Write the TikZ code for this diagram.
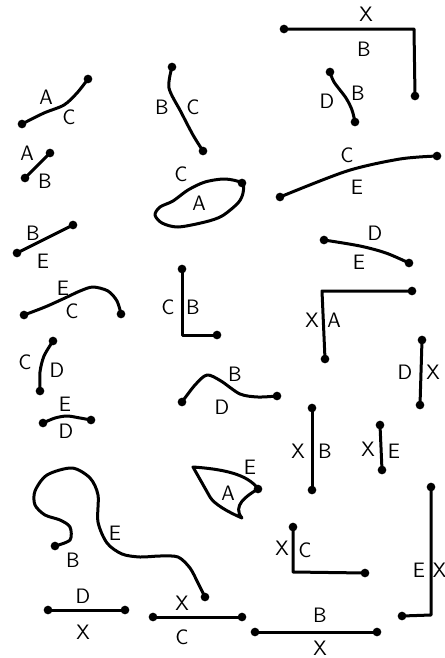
\documentclass[tikz,border=0pt]{standalone}
\usepackage{xcolor}
\usepackage{tikz}

\tikzset{
  wire/.style={line width=1.8pt, line cap=round, line join=round},
  lab/.style={font=\sffamily\fontsize{12.5}{14}\selectfont, inner sep=0pt}
}

\begin{document}
\begin{tikzpicture}[x=0.6pt, y=-0.6pt]
\useasboundingbox (0,0) rectangle (444,658);

% end points
\foreach \n/\x/\y in {ac1/22/124, ac2/88/79, ab1/25/178, ab2/50/153,
  bc1/172/67, bc2/203/151, xb1/284/29, xb2/414/29, xb3/415/96,
  db1/330/72, db2/355/122, ce1/280/197, ce2/437/156, ca1/242/183,
  be1/17/253, be2/73/225, ec1/24/315, ec2/121/314, cd1/53/341, cd2/40/391,
  ed1/43/423, ed2/91/420, cb1/182/269, cb2/182/335, cb3/217/335,
  bd1/182/402, bd2/277/396, de1/324/240, de2/409/263,
  xa1/412/291, xa2/322/291, xa3/325/359, dx1/422/340, dx2/420/405,
  xv1/312/408, xv2/312/490, xe1/380/425, xe2/382/470,
  ea0/193/467, ea1/258/489, ea2/242/518, bw1/55/546, bw2/205/597,
  dh1/48/610, dh2/125/610, xc1/153/617, xc2/242/617, bx1/255/632, bx2/377/632,
  xk1/293/527, xk2/293/572, xk3/365/573, ex1/431/487, ex2/431/615, ex3/402/616}
  \coordinate (\n) at (\x,\y);

% lines
\draw[wire] plot[smooth] coordinates {(ac1) (44,113) (64,105) (77,93) (ac2)};
\draw[wire] (ab1) -- (ab2);
\draw[wire] plot[smooth] coordinates {(bc1) (169,88) (181,112) (193,135) (bc2)};
\draw[wire] (xb1) -- (xb2) -- (xb3);
\draw[wire] plot[smooth] coordinates {(db1) (334,82) (346,98) (352,110) (db2)};
\draw[wire] plot[smooth] coordinates {(ce1) (347,171) (400,159) (ce2)};
\draw[wire] plot[smooth cycle] coordinates {(ca1) (243,193) (238,203) (222,216)
  (205,222) (178,227) (162,223) (155,215) (160,207) (173,201) (188,190) (205,182) (225,179)};
\draw[wire] (be1) -- (be2);
\draw[wire] plot[smooth] coordinates {(ec1) (45,307) (65,298) (80,291) (93,287)
  (108,291) (117,301) (ec2)};
\draw[wire] plot[smooth] coordinates {(cd1) (44,356) (40,372) (cd2)};
\draw[wire] plot[smooth] coordinates {(ed1) (55,418) (67,416) (80,418) (ed2)};
\draw[wire] (cb1) -- (cb2) -- (cb3);
\draw[wire] plot[smooth] coordinates {(bd1) (195,385) (207,375) (221,381)
  (240,394) (258,397) (bd2)};
\draw[wire] plot[smooth] coordinates {(de1) (360,246) (386,253) (de2)};
\draw[wire] (xa1) -- (xa2) -- (xa3);
\draw[wire] (dx1) -- (dx2);
\draw[wire] (xv1) -- (xv2);
\draw[wire] (xe1) -- (xe2);
\draw[wire] (ea0) .. controls (222,469) and (248,474) .. (ea1)
  .. controls (246,496) and (232,506) .. (ea2)
  .. controls (228,512) and (214,504) .. (210,497) -- cycle;
\draw[wire] plot[smooth] coordinates {(bw1) (70,540) (70,527) (60,520) (45,515)
  (35,505) (35,491) (47,475) (72,468) (90,478) (98,495) (98,522) (107,543)
  (122,554) (140,557) (160,556) (178,557) (190,568) (198,583) (bw2)};
\draw[wire] (dh1) -- (dh2);
\draw[wire] (xc1) -- (xc2);
\draw[wire] (bx1) -- (bx2);
\draw[wire] (xk1) -- (xk2) -- (xk3);
\draw[wire] (ex1) -- (ex2) -- (ex3);

% dots
\foreach \n in {ac1, ac2, ab1, ab2, bc1, bc2, xb1, xb3, db1, db2, ce1, ce2, ca1,
  be1, be2, ec1, ec2, cd1, cd2, ed1, ed2, cb1, cb3, bd1, bd2, de1, de2,
  xa1, xa3, dx1, dx2, xv1, xv2, xe1, xe2, ea1, bw1, bw2,
  dh1, dh2, xc1, xc2, bx1, bx2, xk1, xk3, ex1, ex3}
  \fill (\n) circle (2.6pt);

% letters
\foreach \n/\x/\y/\t in {tA1/46/97/A, tC1/69/117/C, tA2/27/153/A, tB2/45/181/B,
  tB3/162/107/B, tC3/193/107/C, tX4/366/14/X, tB4/364/49/B,
  tD5/327/101/D, tB5/358/93/B, tC6/347/155/C, tE6/357/187/E,
  tC7/181/174/C, tA7/199/203/A, tB8/33/233/B, tE8/43/261/E,
  tE9/63/288/E, tC9/72/311/C, tC10/25/362/C, tD10/57/370/D,
  tE11/65/404/E, tD11/66/431/D, tC12/168/307/C, tB12/193/307/B,
  tB13/235/374/B, tD13/222/407/D, tD14/375/233/D, tE14/359/262/E,
  tX15/312/320/X, tA15/334/320/A, tD16/405/372/D, tX16/433/372/X,
  tX17/298/451/X, tB17/325/451/B, tX18/368/449/X, tE18/394/451/E,
  tE19/250/467/E, tA19/228/493/A, tB20/73/560/B, tE20/115/533/E,
  tD21/83/596/D, tX21/83/632/X, tX22/182/603/X, tC22/182/637/C,
  tB23/320/615/B, tX23/320/648/X, tX24/282/548/X, tC24/305/550/C,
  tE25/419/570/E, tX25/439.5/570/X}
  \node[lab] (\n) at (\x,\y) {\t};
\end{tikzpicture}
\end{document}
